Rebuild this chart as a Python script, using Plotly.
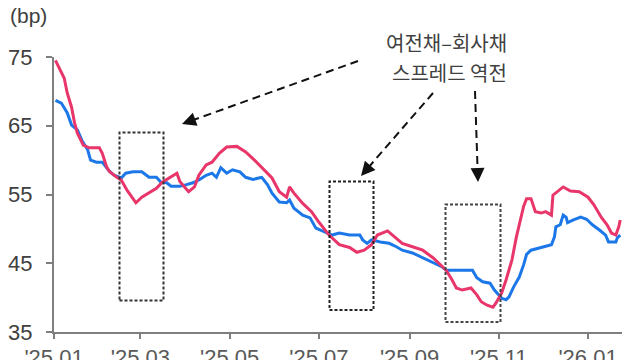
import plotly.graph_objects as go

# ---- data ----
red_dates = ["2025-01-02","2025-01-05","2025-01-08","2025-01-10","2025-01-13","2025-01-15","2025-01-17","2025-01-21",
             "2025-01-25","2025-02-01","2025-02-03","2025-02-06","2025-02-08","2025-02-13","2025-02-16","2025-02-20",
             "2025-02-26","2025-03-02","2025-03-07","2025-03-12","2025-03-16","2025-03-21","2025-03-26","2025-03-28",
             "2025-03-31","2025-04-03","2025-04-07","2025-04-10","2025-04-15","2025-04-19","2025-04-24","2025-04-29",
             "2025-05-06","2025-05-12","2025-05-18","2025-05-23","2025-05-30","2025-06-04","2025-06-09","2025-06-11",
             "2025-06-14","2025-06-20","2025-06-26","2025-07-01","2025-07-08","2025-07-15","2025-07-22","2025-07-27",
             "2025-08-01","2025-08-06","2025-08-10","2025-08-17","2025-08-22","2025-08-27","2025-09-03","2025-09-10",
             "2025-09-17","2025-09-23","2025-09-26","2025-09-30","2025-10-03","2025-10-07","2025-10-13","2025-10-17",
             "2025-10-20","2025-10-24","2025-10-28","2025-10-30","2025-11-03","2025-11-06","2025-11-10","2025-11-13",
             "2025-11-16","2025-11-18","2025-11-20","2025-11-23","2025-11-26","2025-11-30","2025-12-03","2025-12-07",
             "2025-12-08","2025-12-13","2025-12-15","2025-12-20","2025-12-26","2026-01-01","2026-01-05","2026-01-10",
             "2026-01-14","2026-01-17","2026-01-20","2026-01-22","2026-01-23"]
red_values = [74.5,73.1,71.9,69.8,67.7,65.5,63.9,62.2,
              61.8,61.8,61.0,59.0,58.3,57.5,57.1,55.6,
              53.8,54.6,55.2,55.9,56.8,57.4,58.1,56.9,
              56.1,55.4,56.1,57.8,59.3,59.7,61.0,61.9,
              62.0,61.2,60.0,58.9,57.4,55.4,54.6,56.1,
              55.2,53.7,52.5,51.0,49.1,47.7,47.3,46.6,
              46.9,47.7,49.1,49.7,48.8,47.9,47.4,46.9,
              45.8,44.5,44.0,42.6,41.4,41.1,41.4,40.4,
              39.4,38.9,38.6,39.2,40.7,42.6,45.5,48.8,
              51.3,53.3,54.4,54.4,52.5,52.3,52.5,52.0,
              54.9,55.7,56.1,55.5,55.4,54.6,53.5,51.7,
              50.6,49.4,49.1,50.3,51.3]

blue_dates = ["2025-01-02","2025-01-06","2025-01-10","2025-01-13","2025-01-17","2025-01-20","2025-01-24","2025-01-26",
              "2025-01-30","2025-02-03","2025-02-07","2025-02-11","2025-02-16","2025-02-19","2025-02-24","2025-03-02",
              "2025-03-07","2025-03-12","2025-03-15","2025-03-19","2025-03-22","2025-03-28","2025-04-01","2025-04-06",
              "2025-04-10","2025-04-15","2025-04-19","2025-04-22","2025-04-25","2025-04-29","2025-05-03","2025-05-08",
              "2025-05-12","2025-05-17","2025-05-21","2025-05-23","2025-05-27","2025-05-30","2025-06-04","2025-06-09",
              "2025-06-11","2025-06-14","2025-06-20","2025-06-25","2025-06-29","2025-07-06","2025-07-10","2025-07-15",
              "2025-07-22","2025-07-29","2025-07-31","2025-08-03","2025-08-06","2025-08-12","2025-08-18","2025-08-23",
              "2025-08-27","2025-09-03","2025-09-10","2025-09-17","2025-09-23","2025-09-26","2025-10-03","2025-10-14",
              "2025-10-17","2025-10-21","2025-10-26","2025-10-29","2025-11-01","2025-11-03","2025-11-06","2025-11-08",
              "2025-11-11","2025-11-15","2025-11-18","2025-11-20","2025-11-23","2025-11-28","2025-12-03","2025-12-07",
              "2025-12-09","2025-12-10","2025-12-13","2025-12-15","2025-12-17","2025-12-18","2025-12-22","2025-12-27",
              "2025-12-31","2026-01-04","2026-01-09","2026-01-13","2026-01-15","2026-01-20","2026-01-21","2026-01-23"]
blue_values = [68.7,68.3,66.9,65.1,64.4,62.9,61.5,60.0,
               59.7,59.7,58.6,57.8,57.4,58.1,58.3,58.3,
               57.5,57.5,56.8,56.7,56.2,56.2,56.4,56.7,
               57.1,57.8,58.1,57.5,58.9,58.1,58.6,58.3,
               57.5,57.2,57.4,57.5,56.4,55.2,53.9,53.8,
               54.2,53.0,52.0,51.6,50.1,49.4,49.1,49.4,
               49.1,49.1,48.4,47.9,48.4,48.1,47.9,47.4,
               46.9,46.5,45.8,45.2,44.5,44.0,44.0,44.0,
               42.9,42.3,42.1,41.1,40.4,39.9,39.7,40.1,
               41.5,43.0,44.8,46.3,46.9,47.2,47.4,47.7,
               48.8,50.3,50.6,52.0,51.7,50.9,51.3,51.7,
               51.4,50.6,49.8,49.1,48.1,48.1,48.7,49.1]

y_ticks = [35, 45, 55, 65, 75]
note_lines = ["여전채–회사채", "스프레드 역전"]
unit_label = "(bp)"

RED = "#E8356A"
BLUE = "#1C78E8"
AX = "#7F7F7F"

# plot-area frame in screenshot pixels; the page body adds an 8px offset
OFF = 8
L, R, T, B = 54, 622, 57, 332
def px(p):
    return (p - L) / (R - L)
def py(p):
    return (B - p) / (B - T)

fig = go.Figure()
fig.add_trace(go.Scatter(x=blue_dates, y=blue_values, mode="lines", name="회사채 스프레드",
                         line=dict(color=BLUE, width=3)))
fig.add_trace(go.Scatter(x=red_dates, y=red_values, mode="lines", name="여전채 스프레드",
                         line=dict(color=RED, width=3)))

shapes = []
for (x0, y0, x1, y1, c) in [(119.5, 132.5, 163.5, 300.5, "#333333"),
                            (329.5, 181.5, 373.5, 310.0, "#222222"),
                            (445.5, 204.5, 500.5, 322.0, "#444444")]:
    shapes.append(dict(type="rect", xref="paper", yref="paper",
                       x0=px(x0), x1=px(x1), y0=py(y1), y1=py(y0),
                       line=dict(color=c, width=2, dash="3px,2px"), layer="above"))

arrows = [((358, 61), (182, 124)),
          ((433, 93), (361, 176)),
          ((475, 91), (478, 182))]
annotations = []
for (tx, ty), (hx, hy) in arrows:
    dx, dy = hx - tx, hy - ty
    n = (dx * dx + dy * dy) ** 0.5
    ux, uy = dx / n, dy / n
    ex, ey = hx - ux * 8, hy - uy * 8
    shapes.append(dict(type="line", xref="paper", yref="paper",
                       x0=px(tx), y0=py(ty), x1=px(ex), y1=py(ey),
                       line=dict(color="#111111", width=2, dash="8px,5px")))
    annotations.append(dict(xref="paper", yref="paper", x=px(hx), y=py(hy),
                            ax=-ux * 10, ay=-uy * 10, text="", showarrow=True,
                            arrowhead=2, arrowsize=1.4, arrowwidth=2, arrowcolor="#111111",
                            standoff=0))

annotations.append(dict(xref="paper", yref="paper", x=px(446), y=py(42), text=note_lines[0],
                        showarrow=False, xanchor="center", yanchor="middle",
                        font=dict(family="Noto Sans CJK KR", size=20, color="#404040")))
annotations.append(dict(xref="paper", yref="paper", x=px(449), y=py(72), text=note_lines[1],
                        showarrow=False, xanchor="center", yanchor="middle",
                        font=dict(family="Noto Sans CJK KR", size=20, color="#404040")))
annotations.append(dict(xref="paper", yref="paper", x=px(OFF), y=py(16), text=unit_label,
                        showarrow=False, xanchor="left", yanchor="middle",
                        font=dict(family="Liberation Sans, Arial", size=21, color="#404040")))

fig.update_layout(
    width=640, height=360,
    margin=dict(l=L - OFF, r=640 - (R - OFF), t=T - OFF, b=360 - (B - OFF), pad=0, autoexpand=False),
    paper_bgcolor="white", plot_bgcolor="white",
    showlegend=False,
    shapes=shapes, annotations=annotations,
    font=dict(family="Liberation Sans, Arial", color="#404040"),
)
fig.update_xaxes(
    type="date", range=["2025-01-01", "2026-01-24 05:00"],
    tick0="2025-01-01", dtick="M2", tickformat="'%y.%m",
    showgrid=False, zeroline=False, automargin=False,
    showline=True, linecolor=AX, linewidth=2,
    ticks="outside", ticklen=5, tickwidth=2, tickcolor=AX,
    tickfont=dict(size=22, color="#595959"),
)
fig.update_yaxes(
    range=[35, 75], tickvals=y_ticks,
    showgrid=False, zeroline=False, automargin=False,
    showline=True, linecolor=AX, linewidth=2,
    ticks="outside", ticklen=6, tickwidth=2, tickcolor=AX,
    tickfont=dict(size=22, color="#404040"),
    ticklabelstandoff=9,
)

fig.write_html("out.html")
